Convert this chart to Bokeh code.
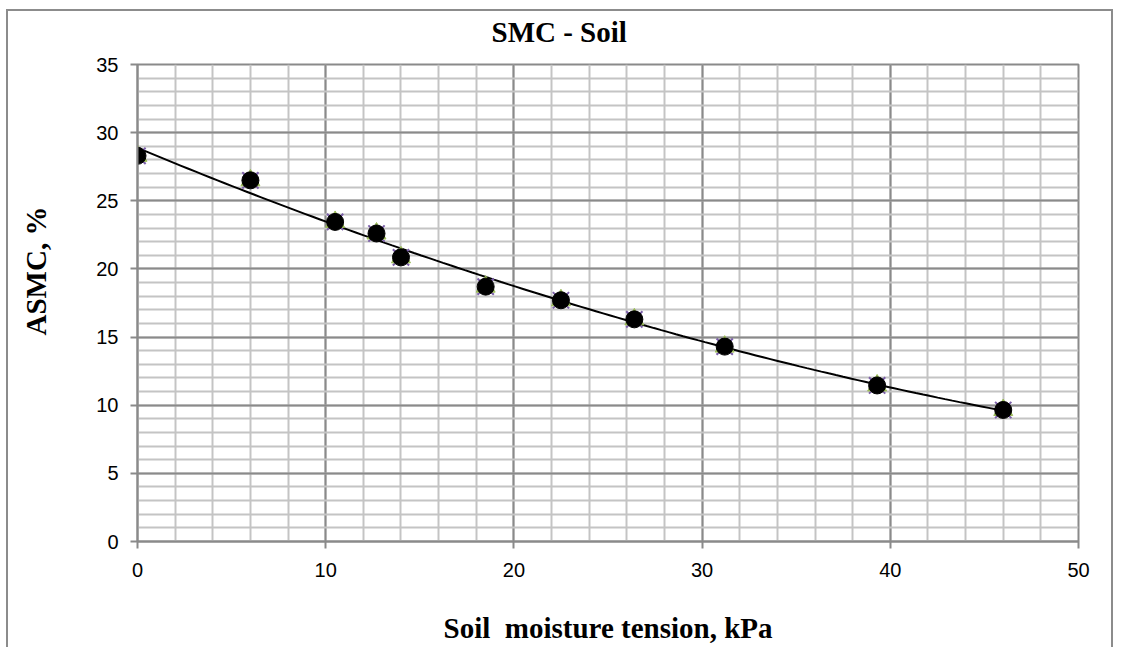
import numpy as np
from bokeh.plotting import figure
from bokeh.models import Range1d, SingleIntervalTicker, Title
from bokeh.embed import file_html
from bokeh.resources import INLINE

# ---- data ----
tension_kpa = [0.0, 6.0, 10.5, 12.7, 14.0, 18.5, 22.5, 26.4, 31.2, 39.3, 46.0]
asmc_pct = [28.3, 26.5, 23.45, 22.6, 20.85, 18.7, 17.7, 16.3, 14.3, 11.45, 9.65]

chart_title = "SMC - Soil"
x_title = "Soil\u00a0 moisture tension, kPa"
y_title = "ASMC, %"

# trendline (2nd order polynomial fitted to the data)
coef = np.polyfit(tension_kpa, asmc_pct, 2)
trend_x = np.linspace(min(tension_kpa), max(tension_kpa), 120)
trend_y = np.polyval(coef, trend_x)

GRID_MAJOR = "#8a8a8a"
GRID_MINOR = "#c4c4c4"
TITLE_FONT = "Liberation Serif"

p = figure(width=1107, height=638,
           x_range=Range1d(0, 50), y_range=Range1d(0, 35),
           output_backend="svg", toolbar_location=None,
           min_border_left=129, min_border_right=37,
           min_border_top=53, min_border_bottom=108)
p.styles = {"margin-left": "6px", "margin-top": "9px",
            "border-left": "2px solid #8c8c8c",
            "border-top": "2px solid #8c8c8c",
            "border-right": "2px solid #8c8c8c"}

p.background_fill_color = "white"
p.border_fill_color = "white"
p.outline_line_color = GRID_MAJOR
p.outline_line_width = 2

p.xaxis.ticker = SingleIntervalTicker(interval=10, num_minor_ticks=5)
p.yaxis.ticker = SingleIntervalTicker(interval=5, num_minor_ticks=5)
p.xgrid.ticker = p.xaxis.ticker
p.ygrid.ticker = p.yaxis.ticker

for g in (p.xgrid, p.ygrid):
    g.grid_line_color = GRID_MAJOR
    g.grid_line_width = 2
    g.minor_grid_line_color = GRID_MINOR
    g.minor_grid_line_width = 2

for ax in (p.xaxis, p.yaxis):
    ax.axis_line_color = GRID_MAJOR
    ax.axis_line_width = 2
    ax.major_tick_line_color = GRID_MAJOR
    ax.major_tick_line_width = 2
    ax.major_tick_in = 0
    ax.major_tick_out = 7
    ax.minor_tick_line_color = None
    ax.major_label_text_font = "Liberation Sans"
    ax.major_label_text_font_size = "20px"
    ax.major_label_text_color = "black"
p.xaxis.major_label_standoff = 14
p.yaxis.major_label_standoff = 12

# x axis title
p.xaxis.axis_label = x_title
p.xaxis.axis_label_text_font = TITLE_FONT
p.xaxis.axis_label_text_font_size = "29px"
p.xaxis.axis_label_text_font_style = "bold"
p.xaxis.axis_label_text_color = "black"
p.xaxis.axis_label_standoff = 32

# chart title (a small spacer sits between it and the plot frame)
p.add_layout(Title(text=" ", text_font_size="7px", standoff=1), "above")
p.add_layout(Title(text=chart_title, align="left", offset=354, vertical_align="top",
                   standoff=9, text_font=TITLE_FONT, text_font_size="29px",
                   text_font_style="bold", text_color="black"), "above")

# y axis title (spacer keeps it away from the tick labels)
p.add_layout(Title(text=" ", text_font_size="31px", standoff=0), "left")
p.add_layout(Title(text=y_title, align="left", offset=206, text_font=TITLE_FONT,
                   text_font_size="29px", text_font_style="bold", text_color="black"), "left")

# trendline
p.line(trend_x, trend_y, line_color="black", line_width=2)

# overlapping series markers
p.scatter(tension_kpa, asmc_pct, marker="x", size=23, line_color="#7B5FA8", line_width=2)
p.scatter(tension_kpa, asmc_pct, marker="triangle", size=19, fill_color="#9BBB59", line_color="#9BBB59")
p.scatter(tension_kpa, asmc_pct, marker="circle", size=17, fill_color="black", line_color="black")

open("out.html", "w").write(file_html(p, INLINE))
